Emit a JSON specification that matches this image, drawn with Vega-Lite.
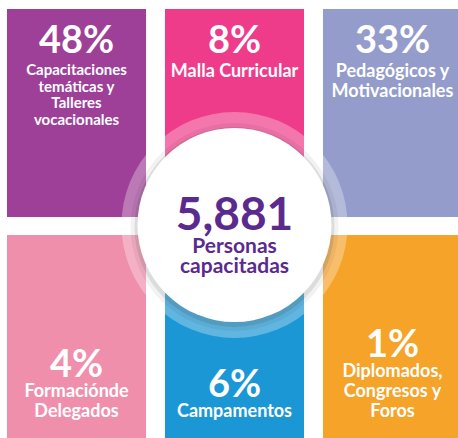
{
  "$schema": "https://vega.github.io/schema/vega-lite/v6.json",
  "width": 458,
  "height": 438,
  "autosize": {"type": "none"},
  "padding": 0,
  "background": "white",
  "config": {"view": {"stroke": null}, "text": {"font": "Lato", "fontWeight": "bold"}},
  "datasets": {
    "tiles": [
      {"cat": "Capacitaciones temáticas y Talleres vocacionales", "share": 0.48, "col": "1", "row": "1", "label": ["Capacitaciones", "temáticas y", "Talleres", "vocacionales"], "lines": 4},
      {"cat": "Malla Curricular", "share": 0.08, "col": "2", "row": "1", "label": ["Malla Curricular"], "lines": 1},
      {"cat": "Pedagógicos y Motivacionales", "share": 0.33, "col": "3", "row": "1", "label": ["Pedagógicos y", "Motivacionales"], "lines": 2},
      {"cat": "Formación de Delegados", "share": 0.04, "col": "1", "row": "2", "label": ["Formaciónde", "Delegados"], "lines": 2},
      {"cat": "Campamentos", "share": 0.06, "col": "2", "row": "2", "label": ["Campamentos"], "lines": 1},
      {"cat": "Diplomados, Congresos y Foros", "share": 0.01, "col": "3", "row": "2", "label": ["Diplomados,", "Congresos y", "Foros"], "lines": 3}
    ],
    "center": [
      {"total": 5881, "label": ["Personas", "capacitadas"], "col": "2", "row": "1"}
    ]
  },
  "resolve": {"scale": {"y": "independent"}},
  "layer": [
    {
      "encoding": {
        "x": {"field": "col", "type": "ordinal", "axis": null, "scale": {"type": "band", "domain": ["1", "2", "3"], "range": [7, 462], "paddingInner": 0.12, "paddingOuter": 0}}
      },
      "layer": [
        {
          "data": {"name": "tiles"},
          "mark": {"type": "rect"},
          "encoding": {
            "y": {"field": "row", "type": "ordinal", "axis": null, "scale": {"type": "band", "domain": ["1", "2"], "range": [9, 443], "paddingInner": 0.08, "paddingOuter": 0}},
            "color": {"field": "cat", "type": "nominal", "legend": null, "scale": {
              "domain": ["Capacitaciones temáticas y Talleres vocacionales", "Malla Curricular", "Pedagógicos y Motivacionales", "Formación de Delegados", "Campamentos", "Diplomados, Congresos y Foros"],
              "range": ["#9E4097", "#EE3C8A", "#949CCB", "#F08FAC", "#1C97D5", "#F6A32A"]}}
          }
        },
        {
          "data": {"name": "center"},
          "mark": {"type": "point", "shape": "circle", "filled": true, "size": 51076, "color": "white", "opacity": 0.3, "strokeWidth": 0, "yOffset": 8},
          "encoding": {"y": {"field": "row", "type": "ordinal", "bandPosition": 1, "axis": null}}
        },
        {
          "data": {"name": "center"},
          "mark": {"type": "point", "shape": "circle", "filled": true, "size": 43264, "color": "#000000", "opacity": 0.05, "strokeWidth": 0, "yOffset": 10},
          "encoding": {"y": {"field": "row", "type": "ordinal", "bandPosition": 1, "axis": null}}
        },
        {
          "data": {"name": "center"},
          "mark": {"type": "point", "shape": "circle", "filled": true, "size": 40000, "color": "#000000", "opacity": 0.09, "strokeWidth": 0, "yOffset": 10},
          "encoding": {"y": {"field": "row", "type": "ordinal", "bandPosition": 1, "axis": null}}
        },
        {
          "data": {"name": "center"},
          "mark": {"type": "point", "shape": "circle", "filled": true, "size": 37636, "color": "white", "opacity": 1, "strokeWidth": 0, "yOffset": 8},
          "encoding": {"y": {"field": "row", "type": "ordinal", "bandPosition": 1, "axis": null}}
        },
        {
          "data": {"name": "center"},
          "mark": {"type": "text", "fontSize": 46, "color": "#5B2A8E", "baseline": "alphabetic", "dy": 13},
          "encoding": {"y": {"field": "row", "type": "ordinal", "bandPosition": 1, "axis": null}, "text": {"field": "total", "type": "quantitative", "format": ","}}
        },
        {
          "data": {"name": "center"},
          "mark": {"type": "text", "fontSize": 21, "lineHeight": 20, "color": "#5B2A8E", "baseline": "alphabetic", "dy": 36},
          "encoding": {"y": {"field": "row", "type": "ordinal", "bandPosition": 1, "axis": null}, "text": {"field": "label"}}
        },
        {
          "data": {"name": "tiles"},
          "transform": [{"filter": "datum.row == '1'"}],
          "mark": {"type": "text", "fontSize": 38, "color": "white", "baseline": "alphabetic", "dy": 44},
          "encoding": {"y": {"field": "row", "type": "ordinal", "bandPosition": 0, "axis": null}, "text": {"field": "share", "type": "quantitative", "format": ".0%"}}
        },
        {
          "data": {"name": "tiles"},
          "transform": [{"filter": "datum.row == '1' && datum.lines > 2"}],
          "mark": {"type": "text", "fontSize": 15, "lineHeight": 16.5, "color": "white", "baseline": "alphabetic", "dy": 66},
          "encoding": {"y": {"field": "row", "type": "ordinal", "bandPosition": 0, "axis": null}, "text": {"field": "label"}}
        },
        {
          "data": {"name": "tiles"},
          "transform": [{"filter": "datum.row == '1' && datum.lines <= 2"}],
          "mark": {"type": "text", "fontSize": 18, "lineHeight": 20, "color": "white", "baseline": "alphabetic", "dy": 68},
          "encoding": {"y": {"field": "row", "type": "ordinal", "bandPosition": 0, "axis": null}, "text": {"field": "label"}}
        }
      ]
    },
    {
      "data": {"name": "tiles"},
      "transform": [{"filter": "datum.row == '2'"}],
      "encoding": {
        "x": {"field": "col", "type": "ordinal", "axis": null},
        "y": {"field": "lines", "type": "ordinal", "axis": null, "scale": {"type": "point", "domain": [1, 2, 3], "range": [397, 357], "padding": 0}}
      },
      "layer": [
        {
          "mark": {"type": "text", "fontSize": 38, "color": "white", "baseline": "alphabetic"},
          "encoding": {"text": {"field": "share", "type": "quantitative", "format": ".0%"}}
        },
        {
          "mark": {"type": "text", "fontSize": 18, "lineHeight": 20, "color": "white", "baseline": "alphabetic", "dy": 20},
          "encoding": {"text": {"field": "label"}}
        }
      ]
    }
  ]
}
